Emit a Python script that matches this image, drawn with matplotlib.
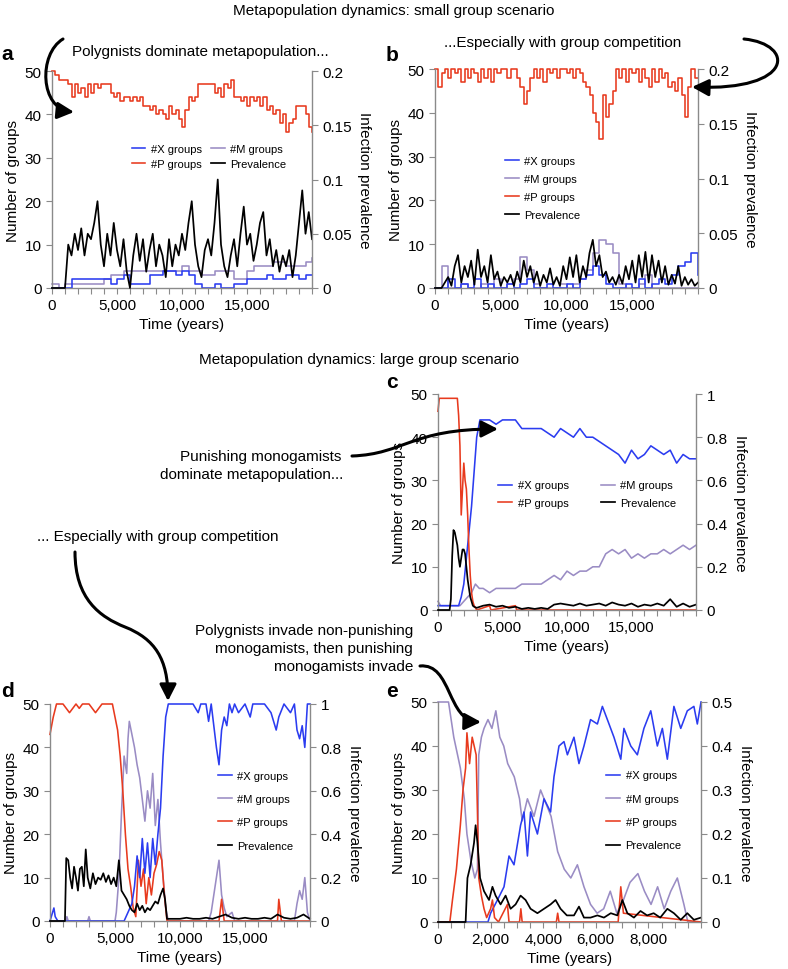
import numpy as np
import matplotlib
matplotlib.use('Agg')
import matplotlib.pyplot as plt
from matplotlib.patches import FancyArrowPatch
from matplotlib.path import Path
from matplotlib.ticker import FixedLocator, FuncFormatter

plt.rcParams['font.family'] = ['Liberation Sans', 'DejaVu Sans']

# ---------------- data ----------------
T250 = np.arange(0, 20001, 250)
T500 = np.arange(0, 20001, 500)

# panel a (small groups, no competition)
a_P = [50, 49, 48, 48, 48, 47, 44, 47, 45, 46, 44, 47, 45, 47, 46, 47, 47, 47, 45, 44,
       45, 43, 44, 44, 43, 44, 43, 44, 42, 42, 41, 42, 40, 41, 40, 39, 42, 40, 41, 39,
       37, 41, 44, 43, 44, 47, 47, 47, 47, 47, 45, 46, 44, 47, 46, 48, 44, 44, 43, 44,
       42, 44, 43, 44, 42, 44, 41, 42, 40, 41, 38, 40, 36, 38, 39, 42, 42, 42, 40, 37,
       36]
a_prev = [0, 0, 0, 0, 0, 0.04, 0.03, 0.05, 0.035, 0.055,
          0.03, 0.05, 0.045, 0.06, 0.08, 0.04, 0.02, 0.05, 0.03, 0.06,
          0.035, 0.02, 0.045, 0.015, 0.0, 0.03, 0.05, 0.025, 0.045, 0.015,
          0.035, 0.05, 0.02, 0.04, 0.03, 0.01, 0.045, 0.02, 0.04, 0.03,
          0.05, 0.035, 0.06, 0.08, 0.04, 0.02, 0.01, 0.035, 0.045, 0.03,
          0.06, 0.1, 0.04, 0.02, 0.01, 0.03, 0.045, 0.02, 0.05, 0.075,
          0.04, 0.05, 0.025, 0.04, 0.06, 0.07, 0.03, 0.045, 0.02, 0.035,
          0.015, 0.03, 0.02, 0.035, 0.01, 0.03, 0.06, 0.09, 0.05, 0.07,
          0.045]
a_X = [0, 0, 0, 2, 2, 2, 2, 2, 2, 1, 2, 3, 1, 1, 1, 3, 3, 4, 4, 3,
       4, 3, 1, 0, 0, 1, 0, 0, 1, 1, 2, 2, 2, 3, 2, 2, 3, 3, 2, 3, 3]
a_M = [1, 0, 1, 1, 1, 1, 1, 1, 2, 3, 3, 4, 4, 4, 4, 4, 4, 4, 4, 4,
       5, 4, 4, 3, 3, 4, 4, 4, 2, 2, 4, 5, 5, 5, 6, 6, 5, 5, 5, 6, 7]

# panel b (small groups, with competition)
b_P = [50, 46, 49, 50, 48, 50, 49, 50, 47, 50, 48, 50, 49, 47, 50, 48, 50, 47, 50, 49,
       50, 50, 48, 50, 50, 48, 46, 42, 45, 48, 50, 48, 50, 47, 50, 49, 50, 48, 50, 50,
       49, 50, 48, 50, 49, 47, 46, 44, 40, 38, 34, 44, 39, 42, 45, 50, 48, 50, 47, 50,
       49, 50, 47, 50, 48, 46, 50, 47, 50, 48, 49, 46, 47, 45, 48, 44, 39, 46, 50, 48,
       48]
b_prev = [0, 0, 0, 0.005, 0.01, 0.002, 0.02, 0.03, 0.005, 0.02,
          0.01, 0.025, 0.003, 0.035, 0.01, 0.02, 0.005, 0.03, 0.008, 0.015,
          0.002, 0.01, 0.005, 0.012, 0.002, 0.015, 0.005, 0.025, 0.01, 0.02,
          0.005, 0.015, 0.002, 0.012, 0.005, 0.018, 0.003, 0.01, 0.002, 0.02,
          0.008, 0.028, 0.01, 0.03, 0.005, 0.02, 0.01, 0.032, 0.044, 0.02,
          0.03, 0.01, 0.015, 0.005, 0.01, 0.003, 0.012, 0.004, 0.02, 0.008,
          0.025, 0.005, 0.03, 0.01, 0.033, 0.005, 0.03, 0.01, 0.025, 0.005,
          0.02, 0.003, 0.012, 0.004, 0.02, 0.002, 0.01, 0.003, 0.008, 0.002,
          0.005]
b_X = [0, 0, 2, 0, 1, 0, 2, 0, 1, 0, 0, 1, 0, 1, 2, 0, 0, 1, 0, 0,
       1, 0, 2, 3, 5, 3, 1, 0, 0, 1, 0, 2, 0, 1, 2, 1, 3, 5, 6, 8, 3]
b_M = [0, 5, 0, 0, 1, 0, 0, 1, 0, 2, 0, 1, 2, 7, 4, 1, 0, 0, 0, 1,
       0, 1, 2, 4, 8, 11, 10, 8, 1, 0, 0, 1, 3, 0, 0, 0, 0, 0, 0, 0, 0]

# panel c (large groups, no competition)
c_P_t = [0, 100, 300, 1500, 1600, 1700, 1800, 1900, 2000, 2100, 2200, 2300, 2400, 2500,
         2600, 2700, 2800, 3000, 4000, 4100, 6000, 6100, 20000]
c_P = [46, 49, 49, 49, 45, 38, 22, 28, 34, 30, 28, 22, 14, 8, 4, 2, 1, 0, 1, 0, 1, 0, 0]
c_X_t = [0, 1600, 1800, 2000, 2200, 2400, 2600, 2800, 3000, 3250, 3500, 4000, 4500, 5000,
         5500, 6000, 6500, 7000, 7500, 8000, 8500, 9000, 9500, 10000, 10500, 11000, 11500,
         12000, 12500, 13000, 13500, 14000, 14500, 15000, 15500, 16000, 16500, 17000,
         17500, 18000, 18500, 19000, 19500, 20000]
c_X = [1, 1, 3, 6, 12, 18, 24, 32, 40, 44, 44, 44, 43, 44, 44, 44, 42, 42, 42, 42,
       41, 40, 42, 41, 40, 42, 40, 40, 39, 38, 37, 36, 34, 37, 35, 36, 38, 37, 36, 37,
       34, 36, 35, 35]
c_M_t = [0, 200, 1700, 2000, 2300, 2600, 2900, 3200, 3500, 4000, 4500, 5000, 5500, 6000,
         6500, 7000, 7500, 8000, 8500, 9000, 9500, 10000, 10500, 11000, 11500, 12000,
         12500, 13000, 13500, 14000, 14500, 15000, 15500, 16000, 16500, 17000, 17500,
         18000, 18500, 19000, 19500, 20000]
c_M = [2, 1, 1, 2, 3, 4, 6, 5, 5, 4, 5, 5, 5, 5, 6, 6, 6, 6, 7, 8,
       7, 9, 8, 9, 9, 10, 10, 13, 14, 13, 14, 12, 13, 12, 13, 13, 14, 13, 14, 15, 14, 15]
c_prev_t = [0, 900, 1000, 1100, 1200, 1300, 1400, 1500, 1600, 1700, 1800, 1900, 2000,
            2100, 2200, 2300, 2400, 2500, 2600, 2700, 2800, 3000,
            3500, 4000, 4500, 5000, 5500, 6000, 6500, 7000, 7500, 8000, 8500, 9000,
            9500, 10000, 10500, 11000, 11500, 12000, 12500, 13000, 13500, 14000, 14500,
            15000, 15500, 16000, 16500, 17000, 17500, 18000, 18500, 19000, 19500, 20000]
c_prev = [0, 0, 0.05, 0.25, 0.37, 0.36, 0.33, 0.3, 0.24, 0.2, 0.24, 0.28, 0.28,
          0.26, 0.2, 0.14, 0.1, 0.06, 0.04, 0.02, 0.015, 0.01,
          0.02, 0.025, 0.015, 0.02, 0.01, 0.015, 0.005, 0.01, 0.005, 0.01, 0.005, 0.025,
          0.03, 0.025, 0.02, 0.03, 0.02, 0.025, 0.03, 0.02, 0.035, 0.025, 0.02,
          0.03, 0.015, 0.025, 0.02, 0.03, 0.02, 0.05, 0.015, 0.03, 0.015, 0.025]

# panel d (large groups, with competition)
d_P_t = [0, 250, 500, 750, 1000, 1500, 2000, 2250, 2500, 3000, 3500, 4000, 4500, 4800,
         5000, 5200, 5400, 5600, 5800, 6000, 6200, 6400, 6600, 6800, 7000, 7200, 7400,
         7600, 7800, 8000, 8200, 8400, 8600, 8800, 9000, 13000, 13200, 13400, 17500,
         17600, 17800, 20000]
d_P = [43, 47, 50, 50, 50, 48, 50, 49, 50, 50, 48, 50, 50, 50, 47, 44, 38, 30, 20, 12,
       8, 3, 1, 14, 8, 12, 4, 10, 6, 11, 13, 16, 14, 6, 0, 0, 5, 0, 0, 5, 0, 0]
d_X_t = [0, 300, 400, 600, 5700, 6000, 6300, 6500, 6700, 6900, 7100, 7300, 7500, 7700,
         7900, 8100, 8300, 8500, 8700, 8900, 9100, 11000, 11400, 11600, 12000, 12200,
         12400, 12600, 12800, 13000, 13200, 13400, 13600, 13800, 14000, 14200, 14500,
         15000, 15400, 15600, 16000, 16500, 17000, 17400, 17600, 18000, 18500, 18800,
         19000, 19200, 19400, 19600, 19800, 20000]
d_X = [0, 3, 1, 0, 0, 2, 4, 8, 15, 10, 19, 11, 18, 10, 19, 13, 20, 26, 38, 47,
       50, 50, 48, 50, 50, 46, 50, 45, 40, 36, 44, 47, 45, 50, 48, 50, 48, 50, 47, 50,
       50, 50, 48, 44, 47, 50, 48, 50, 44, 42, 45, 40, 50, 50]
d_M_t = [0, 1200, 1300, 1400, 2900, 3000, 3100, 5000, 5100, 5300, 5500, 5700, 5900, 6000,
         6100, 6300, 6500, 6700, 6900, 7100, 7300, 7500, 7700, 7900, 8100, 8300, 8500,
         8700, 8900, 9100, 12200, 12400, 12600, 12800, 13000, 13200, 13400, 13600, 14000,
         14200, 14400, 18800, 19000, 19200, 19400, 19600, 19800, 20000]
d_M = [0, 0, 1, 0, 0, 1, 0, 0, 2, 10, 25, 38, 34, 42, 46, 43, 40, 36, 33, 28,
       23, 30, 26, 34, 22, 28, 18, 10, 3, 0, 0, 2, 6, 10, 14, 6, 3, 1, 2, 0,
       0, 0, 4, 7, 5, 10, 2, 0]
d_prev_t = [0, 1150, 1250, 1400, 1550, 1700, 1850, 2000, 2150, 2300, 2450, 2600, 2750,
            2900, 3100, 3300, 3500, 3700, 3900, 4100, 4300, 4500, 4700, 4900, 5100, 5300,
            5500, 5700, 5900, 6100, 6300, 6500, 6700, 6900, 7100, 7300, 7500, 7700, 7900,
            8100, 8300, 8500, 8700, 8850, 9000, 9500, 10000, 10500, 11000, 11500, 12000,
            12500, 13000, 13500, 14000, 14500, 15000, 15500, 16000, 16500, 17000, 17500,
            18000, 18500, 19000, 19500, 20000]
d_prev = [0, 0, 0.29, 0.28, 0.2, 0.15, 0.25, 0.2, 0.14, 0.24, 0.25, 0.16, 0.33,
          0.2, 0.15, 0.22, 0.17, 0.2, 0.19, 0.22, 0.18, 0.21, 0.17, 0.2, 0.16, 0.28,
          0.14, 0.12, 0.1, 0.07, 0.05, 0.04, 0.08, 0.05, 0.07, 0.04, 0.06, 0.05, 0.07,
          0.09, 0.08, 0.12, 0.15, 0.1, 0.01, 0.01, 0.01, 0.015, 0.01, 0.01, 0.015,
          0.01, 0.02, 0.03, 0.015, 0.01, 0.015, 0.01, 0.01, 0.015, 0.01, 0.03,
          0.015, 0.01, 0.015, 0.03, 0.01]

# panel e (invasion sequence)
e_M_t = [0, 400, 600, 850, 1000, 1100, 1250, 1400, 1500, 1550, 1650, 1750, 1900, 2050,
         2200, 2350, 2500, 2650, 2900, 3100, 3200, 3400, 3650, 3900, 4100, 4300, 4550,
         4800, 5050, 5300, 5550, 5800, 6050, 6300, 6550, 6800, 7050, 7300, 7600, 7850,
         8100, 8350, 8600, 8850, 9100, 9350, 9500, 10000]
e_M = [50, 50, 42, 35, 28, 20, 14, 10, 12, 38, 42, 44, 46, 44, 48, 42, 40, 36, 33, 28,
       23, 28, 24, 30, 27, 24, 16, 12, 10, 13, 8, 4, 2, 3, 7, 2, 5, 9, 11, 7,
       4, 8, 3, 7, 10, 4, 0, 0]
e_P_t = [0, 450, 550, 700, 850, 950, 1050, 1100, 1200, 1300, 1450, 1500, 1550, 1650,
         1750, 1850, 2000, 2070, 2150, 2300, 2640, 2700, 3100, 3150, 3200, 4500, 4550,
         4600, 6850, 6950, 7050, 10000]
e_P = [0, 0, 5, 12, 22, 30, 35, 43, 36, 42, 38, 25, 10, 6, 3, 1, 3, 5, 1, 0,
       4, 0, 0, 3, 0, 0, 2, 0, 0, 8, 2, 0]
e_X_t = [0, 1900, 2000, 2260, 2510, 2700, 2890, 3140, 3270, 3400, 3520, 3780, 4030, 4280,
         4410, 4600, 4790, 4920, 5170, 5360, 5550, 5800, 6060, 6250, 6440, 6690, 6950,
         7070, 7330, 7580, 7830, 8090, 8340, 8530, 8720, 8970, 9230, 9480, 9730, 9860,
         10000]
e_X = [0, 0, 2, 5, 8, 15, 13, 22, 25, 15, 25, 20, 28, 25, 33, 40, 41, 38, 42, 36,
       40, 46, 45, 49, 46, 42, 37, 44, 40, 38, 44, 48, 40, 44, 37, 49, 44, 48, 49, 45, 50]
e_prev_t = [0, 1050, 1120, 1240, 1370, 1430, 1500, 1600, 1750, 1940, 2070, 2190, 2380,
            2570, 2760, 2950, 3140, 3330, 3520, 3780, 4030, 4280, 4470, 4660, 4900, 5170,
            5360, 5550, 5800, 6060, 6310, 6570, 6820, 7010, 7200, 7450, 7700, 7950, 8200,
            8450, 8720, 8970, 9230, 9480, 9730, 10000]
e_prev = [0, 0, 0.1, 0.13, 0.18, 0.22, 0.18, 0.1, 0.07, 0.05, 0.08, 0.06, 0.04, 0.06,
          0.03, 0.04, 0.06, 0.05, 0.03, 0.02, 0.03, 0.04, 0.05, 0.03, 0.015, 0.015,
          0.035, 0.01, 0.01, 0.015, 0.01, 0.02, 0.015, 0.05, 0.02, 0.01, 0.025, 0.015,
          0.02, 0.01, 0.03, 0.02, 0.005, 0.02, 0.005, 0.01]

LABEL_X, LABEL_M, LABEL_P, LABEL_PREV = '#X groups', '#M groups', '#P groups', 'Prevalence'

# ---------------- style ----------------
W, H = 788, 970
BLUE = '#2b3cf0'
PURPLE = '#9a8cc4'
RED = '#e83a1e'
BLACK = '#000000'
SPINE = '#8a8a8a'
FS = 11
LFS = 8

fig = plt.figure(figsize=(W / 100, H / 100), dpi=100)


def panel(box, xmax, tick_step, label_step, rmax, rstep):
    l, r, t, b = box
    ax = fig.add_axes([l / W, 1 - b / H, (r - l) / W, (b - t) / H])
    ax2 = ax.twinx()
    ax.set_xlim(0, xmax)
    ax.set_ylim(0, 50)
    ax2.set_ylim(0, rmax)
    ticks = np.arange(0, xmax + 1, tick_step)
    ax.xaxis.set_major_locator(FixedLocator(ticks))
    ax.xaxis.set_major_formatter(FuncFormatter(
        lambda v, p: f"{int(round(v)):,}" if (round(v) % label_step == 0 and round(v) < xmax) else ''))
    ax.yaxis.set_major_locator(FixedLocator([0, 10, 20, 30, 40, 50]))
    ax2.yaxis.set_major_locator(FixedLocator(np.round(np.arange(0, rmax + 1e-9, rstep), 3)))
    ax2.yaxis.set_major_formatter(FuncFormatter(lambda v, p: f"{v:g}"))
    for a_ in (ax, ax2):
        a_.spines['top'].set_visible(False)
        for s in a_.spines.values():
            s.set_color(SPINE)
            s.set_linewidth(1.0)
        a_.tick_params(direction='out', length=4, width=0.8, color=SPINE,
                       labelsize=FS, pad=3.5)
    ax.spines['right'].set_visible(False)
    ax2.spines['left'].set_visible(False)
    ax2.spines['bottom'].set_visible(False)
    ax.set_xlabel('Time (years)', fontsize=FS, labelpad=3)
    ax.set_ylabel('Number of groups', fontsize=FS, labelpad=3)
    ax2.set_ylabel('Infection prevalence', fontsize=FS, rotation=270, labelpad=14)
    return ax, ax2


def legend(ax, ax2, handles, labels, cx, cy, ncol, lspace, cspace=1.0):
    ax2.legend(handles, labels, loc='center', bbox_to_anchor=(cx, cy),
               bbox_transform=ax.transAxes, ncol=ncol, frameon=False, fontsize=LFS,
               handlelength=1.25, handletextpad=0.5, labelspacing=lspace,
               columnspacing=cspace, borderpad=0, borderaxespad=0)


LW = 1.15
# ---- panel a ----
ax, ax2 = panel((52, 312, 72, 289), 20000, 1000, 5000, 0.2, 0.05)
hM, = ax.plot(T500, a_M, color=PURPLE, lw=LW, drawstyle='steps-post', clip_on=False)
hX, = ax.plot(T500, a_X, color=BLUE, lw=LW, drawstyle='steps-post', clip_on=False)
hP, = ax.plot(T250, a_P, color=RED, lw=LW, drawstyle='steps-post', clip_on=False)
hB, = ax2.plot(T250, a_prev, color=BLACK, lw=1.25, clip_on=False)
legend(ax, ax2, [hX, hP, hM, hB], [LABEL_X, LABEL_P, LABEL_M, LABEL_PREV], 0.604, 0.608, 2, 0.45, 0.8)

# ---- panel b ----
ax, ax2 = panel((435, 698, 70, 289), 20000, 1000, 5000, 0.2, 0.05)
hP, = ax.plot(T250, b_P, color=RED, lw=LW, drawstyle='steps-post', clip_on=False)
hM, = ax.plot(T500, b_M, color=PURPLE, lw=LW, drawstyle='steps-post', clip_on=False)
hX, = ax.plot(T500, b_X, color=BLUE, lw=LW, drawstyle='steps-post', clip_on=False)
hB, = ax2.plot(T250, b_prev, color=BLACK, lw=1.25, clip_on=False)
legend(ax, ax2, [hX, hM, hP, hB], [LABEL_X, LABEL_M, LABEL_P, LABEL_PREV], 0.41, 0.457, 1, 0.72)

# ---- panel c ----
ax, ax2 = panel((438, 696, 395, 611), 20000, 1000, 5000, 1.0, 0.2)
hM, = ax.plot(c_M_t, c_M, color=PURPLE, lw=LW, clip_on=False)
hX, = ax.plot(c_X_t, c_X, color=BLUE, lw=LW, clip_on=False)
hP, = ax.plot(c_P_t, c_P, color=RED, lw=LW, clip_on=False)
hB, = ax2.plot(c_prev_t, c_prev, color=BLACK, lw=1.25, clip_on=False)
legend(ax, ax2, [hX, hP, hM, hB], [LABEL_X, LABEL_P, LABEL_M, LABEL_PREV], 0.579, 0.537, 2, 0.65, 2.9)

# ---- panel d ----
ax, ax2 = panel((50, 310, 705, 922), 20000, 1000, 5000, 1.0, 0.2)
hM, = ax.plot(d_M_t, d_M, color=PURPLE, lw=LW, clip_on=False)
hP, = ax.plot(d_P_t, d_P, color=RED, lw=LW, clip_on=False)
hX, = ax.plot(d_X_t, d_X, color=BLUE, lw=LW, clip_on=False)
hB, = ax2.plot(d_prev_t, d_prev, color=BLACK, lw=1.25, clip_on=False)
legend(ax, ax2, [hX, hM, hP, hB], [LABEL_X, LABEL_M, LABEL_P, LABEL_PREV], 0.79, 0.509, 1, 1.2)

# ---- panel e ----
ax, ax2 = panel((438, 701, 703, 923), 10000, 500, 2000, 0.5, 0.1)
hM, = ax.plot(e_M_t, e_M, color=PURPLE, lw=LW, clip_on=False)
hX, = ax.plot(e_X_t, e_X, color=BLUE, lw=LW, clip_on=False)
hP, = ax.plot(e_P_t, e_P, color=RED, lw=LW, clip_on=False)
hB, = ax2.plot(e_prev_t, e_prev, color=BLACK, lw=1.25, clip_on=False)
legend(ax, ax2, [hX, hM, hP, hB], [LABEL_X, LABEL_M, LABEL_P, LABEL_PREV], 0.783, 0.507, 1, 1.2)

# ---------------- overlay: titles, annotations, arrows ----------------
ov = fig.add_axes([0, 0, 1, 1])
ov.set_xlim(0, W)
ov.set_ylim(H, 0)
ov.axis('off')
ov.set_zorder(20)

TFS = 11
ov.text(394, 11, 'Metapopulation dynamics: small group scenario', ha='center', va='center', fontsize=TFS)
ov.text(359, 360, 'Metapopulation dynamics: large group scenario', ha='center', va='center', fontsize=TFS)
ov.text(72, 52, 'Polygnists dominate metapopulation...', ha='left', va='center', fontsize=TFS)
ov.text(444, 43, '...Especially with group competition', ha='left', va='center', fontsize=TFS)
ov.text(341, 457, 'Punishing monogamists', ha='right', va='center', fontsize=TFS)
ov.text(343, 475, 'dominate metapopulation...', ha='right', va='center', fontsize=TFS)
ov.text(37, 537, '... Especially with group competition', ha='left', va='center', fontsize=TFS)
ov.text(413, 631, 'Polygnists invade non-punishing', ha='right', va='center', fontsize=TFS)
ov.text(413, 649, 'monogamists, then punishing', ha='right', va='center', fontsize=TFS)
ov.text(413, 667, 'monogamists invade', ha='right', va='center', fontsize=TFS)

for lab, x, y in [('a', 1, 60), ('b', 386, 61), ('c', 386, 388), ('d', 1, 697), ('e', 386, 697)]:
    ov.text(x, y, lab, ha='left', va='baseline', fontsize=15, fontweight='bold')


def arrow(points):
    codes = [Path.MOVETO] + [Path.CURVE4] * (len(points) - 1)
    p = FancyArrowPatch(path=Path(points, codes), arrowstyle='-|>,head_length=0.55,head_width=0.28',
                        mutation_scale=18, lw=2.2, color='black', transform=ov.transData)
    ov.add_patch(p)


arrow([(63, 40), (38, 55), (40, 110), (74, 113)])
arrow([(744, 40), (795, 45), (795, 92), (692, 88)])
arrow([(352, 457), (405, 455), (410, 430), (498, 430)])
arrow([(75, 553), (75, 600), (100, 618), (125, 628), (155, 640), (168, 660), (168, 702)])
arrow([(420, 667), (452, 664), (447, 722), (481, 723)])

fig.savefig('out.png', dpi=100)
